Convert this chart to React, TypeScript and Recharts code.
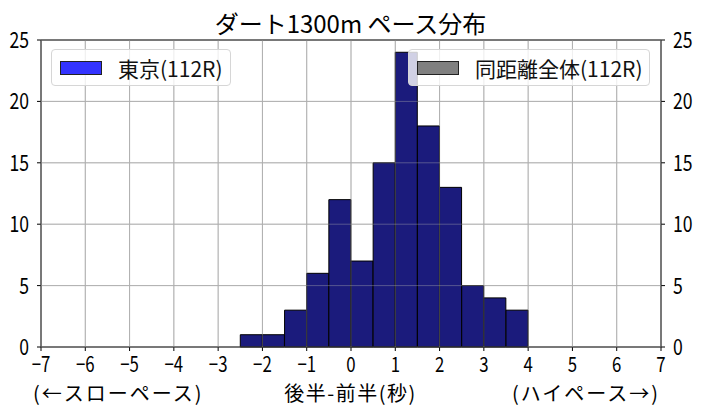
import React from "react";
import {
  ComposedChart,
  Bar,
  Line,
  XAxis,
  YAxis,
  CartesianGrid,
  ReferenceLine,
} from "recharts";

const TITLE = "ダート1300m ペース分布";
const X_LABEL = "後半-前半(秒)";
const SLOW_LABEL = "(←スローペース)";
const HIGH_LABEL = "(ハイペース→)";

const binStarts = [
  -7, -6.5, -6, -5.5, -5, -4.5, -4, -3.5, -3, -2.5, -2, -1.5, -1, -0.5, 0,
  0.5, 1, 1.5, 2, 2.5, 3, 3.5, 4, 4.5, 5, 5.5, 6, 6.5,
];
// 東京
const tokyoCounts = [
  0, 0, 0, 0, 0, 0, 0, 0, 0, 1, 1, 3, 6, 12, 7, 15, 24, 18, 13, 5, 4, 3, 0,
  0, 0, 0, 0, 0,
];
// 同距離全体 (same races, hidden behind the Tokyo bars)
const allCounts = [
  0, 0, 0, 0, 0, 0, 0, 0, 0, 1, 1, 3, 6, 12, 7, 15, 24, 18, 13, 5, 4, 3, 0,
  0, 0, 0, 0, 0,
];
const BIN_WIDTH = 0.5;

const xTicks = [-7, -6, -5, -4, -3, -2, -1, 0, 1, 2, 3, 4, 5, 6, 7];
const yTicks = [0, 5, 10, 15, 20, 25];

const seriesNames = ["東京(112R)", "同距離全体(112R)"];

const data = binStarts.map((s, i) => ({
  x: s + BIN_WIDTH / 2,
  tokyo: tokyoCounts[i],
  all: allCounts[i],
}));

const FONT = "'Noto Sans CJK JP', 'Noto Sans', sans-serif";

const fmtTick = (v: number) => (v < 0 ? `−${Math.abs(v)}` : `${v}`);

function XTick(props: any) {
  const { x, y, payload } = props;
  return (
    <text
      transform={`translate(${x},${y + 19}) scale(0.8,1)`}
      textAnchor="middle"
      fontSize={21}
      fontFamily={FONT}
      fill="#000"
    >
      {fmtTick(payload.value)}
    </text>
  );
}

function YTick(props: any) {
  const { x, y, payload, anchor } = props;
  return (
    <text
      transform={`translate(${x},${y + 8}) scale(0.8,1)`}
      textAnchor={anchor}
      fontSize={22}
      fontFamily={FONT}
      fill="#000"
    >
      {payload.value}
    </text>
  );
}

function LegendBox({
  left,
  width,
  color,
  label,
}: {
  left: number;
  width: number;
  color: string;
  label: string;
}) {
  return (
    <div
      style={{
        position: "absolute",
        left,
        top: 49,
        width,
        height: 37,
        boxSizing: "border-box",
        background: "rgba(255,255,255,0.8)",
        border: "1px solid #d6d6d6",
        borderRadius: 4,
        display: "flex",
        alignItems: "center",
      }}
    >
      <div
        style={{
          marginLeft: 8,
          width: 42,
          height: 14,
          boxSizing: "border-box",
          background: color,
          border: "1px solid #222",
        }}
      />
      <span style={{ marginLeft: 16, fontSize: 21, color: "#111" }}>{label}</span>
    </div>
  );
}

const bottomLabel: React.CSSProperties = {
  position: "absolute",
  top: 383,
  fontSize: 20,
  lineHeight: 1,
  letterSpacing: 2,
  color: "#000",
};

export default function App() {
  return (
    <div
      style={{
        position: "fixed",
        left: 0,
        top: 0,
        width: 701,
        height: 412,
        background: "#fff",
        fontFamily: FONT,
      }}
    >
      <ComposedChart
        width={701}
        height={412}
        data={data}
        margin={{ top: 40, right: 0, bottom: 0, left: 0 }}
        barCategoryGap={0}
        barGap={0}
      >
        <CartesianGrid yAxisId="left" stroke="#b0b0b0" strokeWidth={1} />
        <XAxis
          dataKey="x"
          type="number"
          domain={[-7, 7]}
          ticks={xTicks}
          height={65}
          tickSize={4}
          stroke="#000"
          tick={<XTick />}
          allowDataOverflow
        />
        <YAxis
          yAxisId="left"
          domain={[0, 25]}
          ticks={yTicks}
          width={41}
          tickSize={4}
          stroke="#000"
          tick={(p: any) => <YTick {...p} x={p.x - 6} anchor="end" />}
        />
        <YAxis
          yAxisId="right"
          orientation="right"
          domain={[0, 25]}
          ticks={yTicks}
          width={40}
          tickSize={4}
          stroke="#000"
          tick={(p: any) => <YTick {...p} x={p.x + 6} anchor="start" />}
        />
        <Line
          yAxisId="right"
          dataKey="all"
          stroke="none"
          dot={false}
          activeDot={false}
          legendType="none"
          isAnimationActive={false}
        />
        <Bar
          yAxisId="left"
          dataKey="tokyo"
          fill="#1b1b7c"
          stroke="#000"
          strokeWidth={1}
          isAnimationActive={false}
        />
        <CartesianGrid
          yAxisId="left"
          stroke="rgba(176,176,176,0.4)"
          strokeWidth={1}
          fill="none"
          {...({ zIndex: 500 } as any)}
        />
        <ReferenceLine yAxisId="left" y={25} stroke="#000" strokeWidth={1} />
      </ComposedChart>
      <div
        style={{
          position: "absolute",
          left: 0,
          width: 701,
          top: 5,
          textAlign: "center",
          fontSize: 24,
          color: "#000",
        }}
      >
        {TITLE}
      </div>
      <div style={{ ...bottomLabel, left: 0, width: 701, textAlign: "center", letterSpacing: 1.5 }}>
        {X_LABEL}
      </div>
      <div style={{ ...bottomLabel, left: 33 }}>{SLOW_LABEL}</div>
      <div style={{ ...bottomLabel, left: 512 }}>{HIGH_LABEL}</div>
      <LegendBox left={51} width={180} color="#3333ff" label={seriesNames[0]} />
      <LegendBox left={408} width={242} color="#808080" label={seriesNames[1]} />
    </div>
  );
}
